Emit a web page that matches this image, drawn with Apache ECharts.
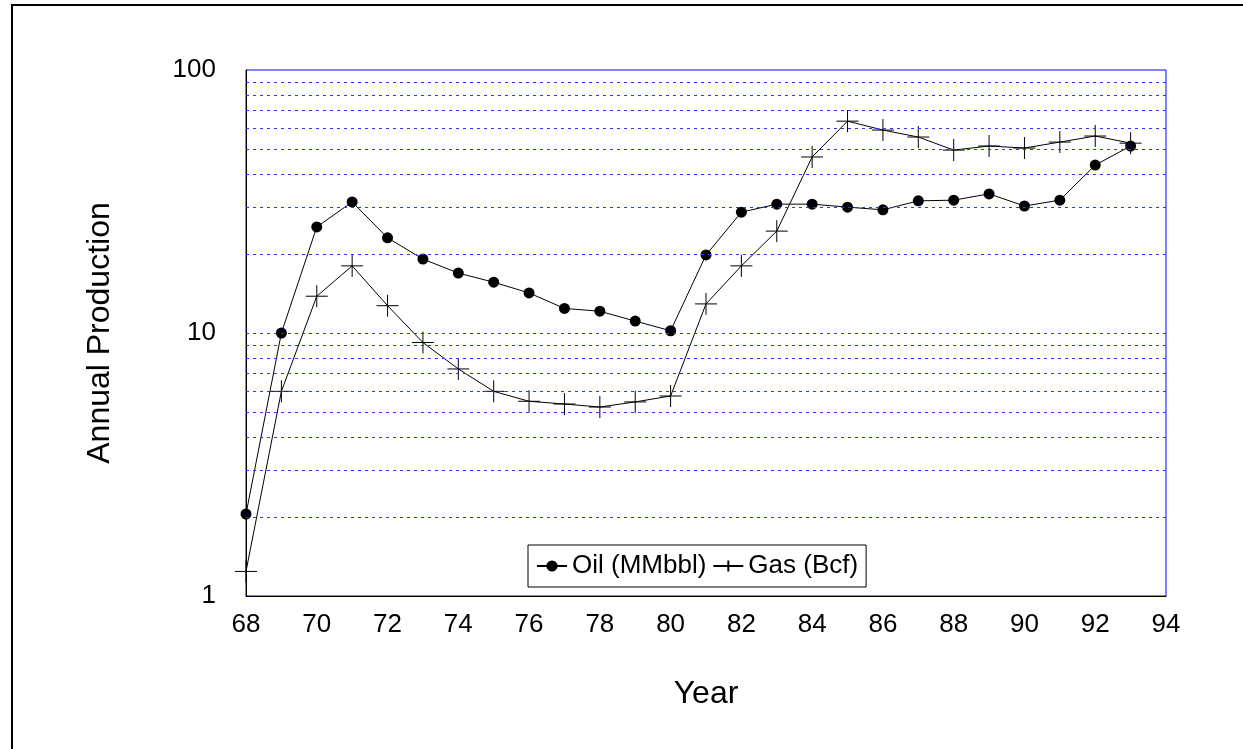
<!DOCTYPE html>
<html>
<head>
<meta charset="utf-8">
<script src="https://cdn.jsdelivr.net/npm/echarts@6/dist/echarts.min.js"></script>
<style>html,body{margin:0;padding:0;background:#fff}#chart{width:1243px;height:749px}</style>
</head>
<body>
<div id="chart"></div>
<script>
var years = [68,69,70,71,72,73,74,75,76,77,78,79,80,81,82,83,84,85,86,87,88,89,90,91,92,93];
var oil = [2.05,10,25.3,31.5,23,19.1,16.9,15.6,14.2,12.4,12.1,11.1,10.2,19.8,28.8,30.9,30.9,30.1,29.4,31.8,32,33.8,30.4,32,43.5,51.4];
var gas = [1.24,6.0,13.8,18,12.7,9.2,7.3,6.0,5.5,5.37,5.23,5.47,5.76,12.9,18,24.4,46.7,63.9,59.1,55.6,49.6,51.4,50.5,53.2,56.1,52.7];
var gridValues = [2,3,4,5,6,7,8,9,10,20,30,40,50,60,70,80,90];

function pairs(v) { return years.map(function (y, i) { return [y, v[i]]; }); }

var chart = echarts.init(document.getElementById("chart"));
var font = "Liberation Sans, Arial, sans-serif";
var gridStyle = { color: "#3030ff", type: [3, 4], width: 1, opacity: 1 };
chart.setOption({
    animation: false,
    textStyle: { fontFamily: font },
    graphic: [{
        type: "rect", shape: { x: 12, y: 5, width: 1240, height: 760 },
        style: { fill: "none", stroke: "#000", lineWidth: 2 }, silent: true
    }],
    grid: { left: 246, right: 77, top: 70, bottom: 153, show: true, borderColor: "#0000ff", borderWidth: 1 },
    legend: {
        bottom: 162, left: 528,
        data: ["Oil (MMbbl)", "Gas (Bcf)"],
        borderColor: "#000", borderWidth: 1, padding: [8, 8],
        itemWidth: 30, itemHeight: 14, itemGap: 6,
        textStyle: { fontSize: 26, color: "#000", fontFamily: font }
    },
    xAxis: {
        type: "value", min: 68, max: 94, interval: 2,
        name: "Year", nameLocation: "middle", nameGap: 82,
        nameTextStyle: { fontSize: 32, color: "#000" },
        axisLine: { lineStyle: { color: "#000" } },
        axisTick: { show: false },
        splitLine: { show: false },
        axisLabel: { fontSize: 26, color: "#000", margin: 16 }
    },
    yAxis: {
        type: "log", min: 1, max: 100, logBase: 10,
        name: "Annual Production", nameLocation: "middle", nameGap: 130,
        nameTextStyle: { fontSize: 32, color: "#000" },
        axisLine: { show: true, lineStyle: { color: "#000" } },
        axisTick: { show: false },
        splitLine: { show: false },
        axisLabel: { fontSize: 26, color: "#000", margin: 30 }
    },
    series: [{
        name: "grid", type: "line", data: [], z: 1, silent: true,
        markLine: {
            silent: true, symbol: "none", label: { show: false },
            lineStyle: gridStyle,
            emphasis: { disabled: true },
            data: gridValues.map(function (v) { return { yAxis: v, lineStyle: gridStyle }; })
        }
    }, {
        name: "Oil (MMbbl)", type: "line", data: pairs(oil), z: 3,
        symbol: "circle", symbolSize: 11,
        itemStyle: { color: "#000" }, lineStyle: { color: "#000", width: 1 }
    }, {
        name: "Gas (Bcf)", type: "line", data: pairs(gas), z: 3,
        symbol: "path://M0,10 L20,10 M10,0 L10,20", symbolSize: 22,
        itemStyle: { color: "transparent", borderColor: "#000", borderWidth: 1 },
        lineStyle: { color: "#000", width: 1 }
    }]
});
</script>
</body>
</html>
